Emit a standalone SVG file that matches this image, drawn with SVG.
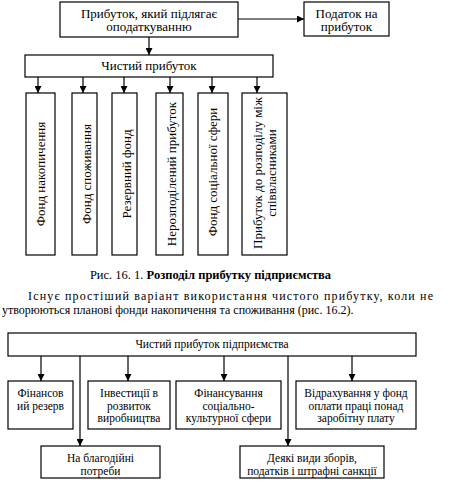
<svg xmlns="http://www.w3.org/2000/svg" width="449" height="487" viewBox="0 0 449 487">
<defs>
<marker id="ah" viewBox="0 0 8 8" refX="8" refY="4" markerWidth="7" markerHeight="7" markerUnits="userSpaceOnUse" orient="auto">
<path d="M0,0 L8,4 L0,8 z" fill="#000"/>
</marker>
</defs>
<style>
rect{fill:#fff;stroke:#000;stroke-width:1.2}
text{font-family:'Liberation Serif','Times New Roman','DejaVu Serif',serif;fill:#000;text-anchor:middle}
.t{font-size:13px}
.s{font-size:11.5px}
.p{font-size:12px;text-anchor:start}
.c{font-size:12.5px}
#connectors line{stroke:#000;stroke-width:1.2}
.a{marker-end:url(#ah)}
</style>
<rect x="0" y="0" width="449" height="487" style="fill:#fff;stroke:none"/>
<g id="n-taxable"><rect x="60" y="2" width="178" height="35"/><text class="t" x="149" y="17.5">Прибуток, який підлягає</text><text class="t" x="149" y="31">оподаткуванню</text></g>
<g id="n-tax"><rect x="304" y="2" width="85" height="34"/><text class="t" x="346.5" y="17.5">Податок на</text><text class="t" x="346.5" y="31">прибуток</text></g>
<g id="n-net"><rect x="25" y="55" width="248" height="22"/><text class="t" x="149" y="70">Чистий прибуток</text></g>
<g id="n-f1"><rect x="26" y="93" width="29" height="162"/><text class="t" transform="translate(45,174) rotate(-90)">Фонд накопичення</text></g>
<g id="n-f2"><rect x="72" y="93" width="25" height="162"/><text class="t" transform="translate(91,174) rotate(-90)">Фонд споживання</text></g>
<g id="n-f3"><rect x="112" y="93" width="25" height="162"/><text class="t" transform="translate(131,174) rotate(-90)">Резервний фонд</text></g>
<g id="n-f4"><rect x="156" y="93" width="27" height="162"/><text class="t" transform="translate(176,174) rotate(-90)">Нерозподілений прибуток</text></g>
<g id="n-f5"><rect x="198" y="93" width="30" height="162"/><text class="t" transform="translate(217,172) rotate(-90)">Фонд соціальної сфери</text></g>
<g id="n-f6"><rect x="242" y="93" width="45" height="162"/><text class="t" transform="translate(262,173) rotate(-90)">Прибуток до розподілу між</text><text class="t" transform="translate(276,173) rotate(-90)">співвласниками</text></g>
<text class="c" x="210.5" y="279"><tspan>Рис. 16. 1. </tspan><tspan font-weight="bold">Розподіл прибутку підприємства</tspan></text>
<text class="p" x="28" y="300" textLength="405" lengthAdjust="spacing">Існує простіший варіант використання чистого прибутку, коли не</text>
<text class="p" x="2" y="314">утворюються планові фонди накопичення та споживання (рис. 16.2).</text>
<g id="n-net2"><rect x="8" y="333" width="408" height="23"/><text class="s" x="212" y="348">Чистий прибуток підприємства</text></g>
<g id="n-b1"><rect x="8" y="381" width="65" height="48"/><text class="s" x="40.5" y="397">Фінансов</text><text class="s" x="40.5" y="409.5">ий резерв</text></g>
<g id="n-b2"><rect x="88" y="381" width="82" height="48"/><text class="s" x="129" y="397">Інвестиції в</text><text class="s" x="129" y="409.5">розвиток</text><text class="s" x="129" y="422">виробництва</text></g>
<g id="n-b3"><rect x="176" y="381" width="105" height="48"/><text class="s" x="228.5" y="397">Фінансування</text><text class="s" x="228.5" y="409.5">соціально-</text><text class="s" x="228.5" y="422">культурної сфери</text></g>
<g id="n-b4"><rect x="296" y="381" width="120" height="48"/><text class="s" x="356" y="397">Відрахування у фонд</text><text class="s" x="356" y="409.5">оплати праці понад</text><text class="s" x="356" y="422">заробітну плату</text></g>
<g id="n-b5"><rect x="41" y="446" width="119" height="32"/><text class="s" x="100.5" y="461.5">На благодійні</text><text class="s" x="100.5" y="474.5">потреби</text></g>
<g id="n-b6"><rect x="240" y="446" width="144" height="32"/><text class="s" x="312" y="461.5">Деякі види зборів,</text><text class="s" x="312" y="474.5">податків і штрафні санкції</text></g>
<g id="connectors">
<line class="a" x1="238" y1="19" x2="304" y2="19"/>
<line class="a" x1="149" y1="37" x2="149" y2="55"/>
<line class="a" x1="38" y1="77" x2="38" y2="93"/>
<line class="a" x1="83" y1="77" x2="83" y2="93"/>
<line class="a" x1="124" y1="77" x2="124" y2="93"/>
<line class="a" x1="170" y1="77" x2="170" y2="93"/>
<line class="a" x1="212" y1="77" x2="212" y2="93"/>
<line class="a" x1="257" y1="77" x2="257" y2="93"/>
<line class="a" x1="41" y1="356" x2="41" y2="381"/>
<line class="a" x1="80" y1="356" x2="80" y2="446"/>
<line class="a" x1="128" y1="356" x2="128" y2="381"/>
<line class="a" x1="224" y1="356" x2="224" y2="381"/>
<line class="a" x1="288" y1="356" x2="288" y2="446"/>
<line class="a" x1="352" y1="356" x2="352" y2="381"/>
</g>
</svg>
